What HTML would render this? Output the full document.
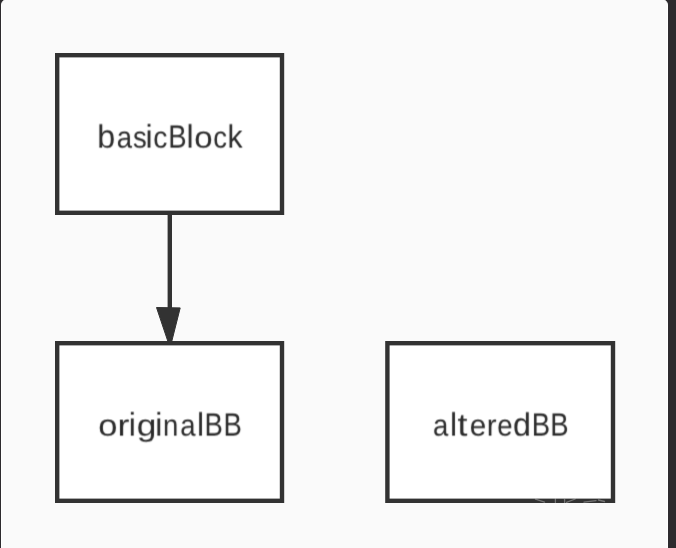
<!DOCTYPE html>
<html>
<head>
<meta charset="utf-8">
<title>diagram</title>
<style>
html,body{margin:0;padding:0;background:#2d2b2e;overflow:hidden;}
body{width:676px;height:548px;position:relative;font-family:"Liberation Sans",sans-serif;}
#panel{position:absolute;left:1.1px;top:-1.5px;width:667px;height:560px;background:#fafafa;border-radius:6px 6px 0 0;box-sizing:border-box;border:1px solid #ffffff;}
svg{position:absolute;left:0;top:0;will-change:transform;}
text{font-family:"Liberation Sans",sans-serif;font-size:32.0px;font-kerning:none;text-rendering:geometricPrecision;fill:#2b2b2b;}
</style>
</head>
<body>
<div id="panel"></div>
<svg width="676" height="548" viewBox="0 0 676 548">
  <defs><filter id="tx" x="0" y="0" width="676" height="548" filterUnits="userSpaceOnUse" color-interpolation-filters="sRGB"><feConvolveMatrix order="3" kernelMatrix="0.0480 0.3040 0.0480 0.0600 0.3800 0.0600 0.0120 0.0760 0.0120" divisor="1" edgeMode="none" preserveAlpha="false"/></filter><filter id="bl" x="-5%" y="-50%" width="110%" height="200%"><feGaussianBlur stdDeviation="0.6"/></filter></defs>
  <g fill="#ffffff" stroke="#323232" stroke-width="4.4">
    <rect x="57.2" y="55.2" width="224.8" height="157.6"/>
    <rect x="57.2" y="343.2" width="224.8" height="157.6"/>
    <rect x="387.4" y="343.2" width="225.6" height="157.6"/>
  </g>
  <line x1="169.8" y1="214" x2="169.8" y2="312" stroke="#323232" stroke-width="4.4"/>
  <path d="M156.5 307.5 L180.2 307.9 L171.6 342 L168.1 342 Z" fill="#323232" stroke="#323232" stroke-width="1" stroke-linejoin="round"/>
  <g stroke="#ffffff" stroke-width="1.3" stroke-linecap="round" fill="none" opacity="0.32" filter="url(#bl)">
    <path d="M535.5 499.2 L544.5 502.2"/>
    <path d="M555.4 499 L555.4 502.5"/>
    <path d="M564.6 499.5 L564.6 502.5"/>
    <path d="M566.5 502.4 L575.2 499"/>
    <path d="M584 502.2 L596 500.6"/>
    <path d="M598.5 500 L604.5 501.5"/>
  </g>
  <g filter="url(#tx)">
  <text y="148"><tspan x="97.17" font-size="32.32" textLength="17.93" lengthAdjust="spacingAndGlyphs">b</tspan><tspan x="116.66" font-size="30.24" textLength="15.31" lengthAdjust="spacingAndGlyphs">a</tspan><tspan x="132.88" font-size="30.24" textLength="13.76" lengthAdjust="spacingAndGlyphs">s</tspan><tspan x="145.45" font-size="32.64" textLength="7.11" lengthAdjust="spacingAndGlyphs">i</tspan><tspan x="153.15" font-size="30.24" textLength="14.15" lengthAdjust="spacingAndGlyphs">c</tspan><tspan x="168.17" font-size="32.32" textLength="18.36" lengthAdjust="spacingAndGlyphs">B</tspan><tspan x="186.49" font-size="32.64" textLength="7.11" lengthAdjust="spacingAndGlyphs">l</tspan><tspan x="194.26" font-size="30.24" textLength="18.37" lengthAdjust="spacingAndGlyphs">o</tspan><tspan x="213.15" font-size="30.24" textLength="13.76" lengthAdjust="spacingAndGlyphs">c</tspan><tspan x="227.42" font-size="32.32" textLength="15.09" lengthAdjust="spacingAndGlyphs">k</tspan></text>
  <text y="436"><tspan x="98.20" font-size="30.24" textLength="19.20" lengthAdjust="spacingAndGlyphs">o</tspan><tspan x="117.44" font-size="30.24" textLength="11.94" lengthAdjust="spacingAndGlyphs">r</tspan><tspan x="128.75" font-size="32.64" textLength="7.11" lengthAdjust="spacingAndGlyphs">i</tspan><tspan x="136.67" font-size="30.24" textLength="19.66" lengthAdjust="spacingAndGlyphs">g</tspan><tspan x="155.15" font-size="32.64" textLength="7.11" lengthAdjust="spacingAndGlyphs">i</tspan><tspan x="163.12" font-size="30.24" textLength="15.32" lengthAdjust="spacingAndGlyphs">n</tspan><tspan x="180.16" font-size="30.24" textLength="15.31" lengthAdjust="spacingAndGlyphs">a</tspan><tspan x="196.99" font-size="32.64" textLength="7.11" lengthAdjust="spacingAndGlyphs">l</tspan><tspan x="204.62" font-size="32.32" textLength="18.36" lengthAdjust="spacingAndGlyphs">B</tspan><tspan x="223.42" font-size="32.32" textLength="18.36" lengthAdjust="spacingAndGlyphs">B</tspan></text>
  <text y="436"><tspan x="433.01" font-size="30.24" textLength="15.31" lengthAdjust="spacingAndGlyphs">a</tspan><tspan x="449.94" font-size="32.64" textLength="7.11" lengthAdjust="spacingAndGlyphs">l</tspan><tspan x="457.58" font-size="31.68" textLength="9.96" lengthAdjust="spacingAndGlyphs">t</tspan><tspan x="469.69" font-size="30.24" textLength="16.47" lengthAdjust="spacingAndGlyphs">e</tspan><tspan x="486.78" font-size="30.24" textLength="9.86" lengthAdjust="spacingAndGlyphs">r</tspan><tspan x="497.17" font-size="30.24" textLength="15.31" lengthAdjust="spacingAndGlyphs">e</tspan><tspan x="513.00" font-size="32.32" textLength="17.93" lengthAdjust="spacingAndGlyphs">d</tspan><tspan x="531.77" font-size="32.32" textLength="18.36" lengthAdjust="spacingAndGlyphs">B</tspan><tspan x="550.22" font-size="32.32" textLength="18.36" lengthAdjust="spacingAndGlyphs">B</tspan></text>
  </g>
</svg>
</body>
</html>
